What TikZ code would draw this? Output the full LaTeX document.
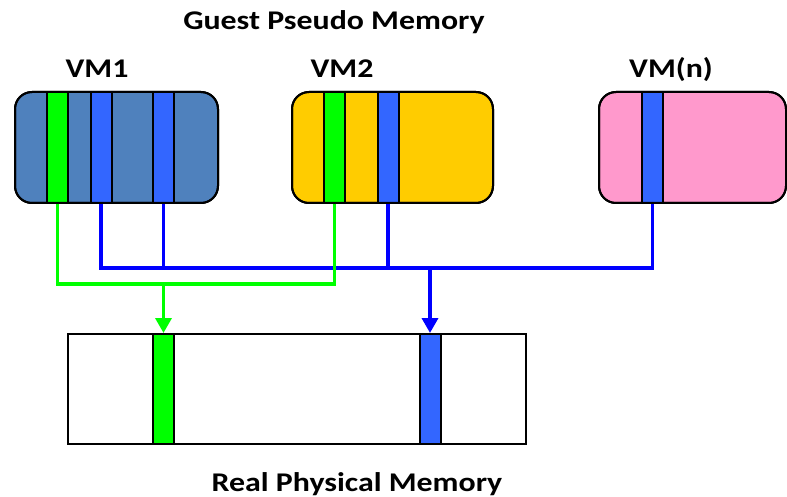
\documentclass[tikz,border=0pt]{standalone}
\usepackage{fontspec}
\setmainfont{Carlito}
\usetikzlibrary{arrows.meta}
\definecolor{vmblue}{HTML}{4F81BD}
\definecolor{vmyellow}{HTML}{FFCC00}
\definecolor{vmpink}{HTML}{FF99CC}
\definecolor{stripeblue}{HTML}{3366FF}
\definecolor{stripegreen}{HTML}{00FF00}
\definecolor{linkblue}{HTML}{0000FF}
\newcommand{\widetext}[1]{\scalebox{1.18}[1]{#1}}
\tikzset{
  vmbox/.style={draw=black, line width=2pt, rounded corners=17pt, inner sep=0pt, minimum height=111pt},
  stripe/.style={draw=black, line width=2pt, inner sep=0pt, minimum width=21pt},
  label/.style={font=\bfseries\fontsize{27}{30}\selectfont, inner sep=0pt, anchor=base},
  glink/.style={draw=stripegreen, line width=3.5pt},
  blink/.style={draw=linkblue, line width=3.5pt},
  tip/.style={-{Triangle[width=16pt,length=15pt]}},
}
\begin{document}
\begin{tikzpicture}[x=1pt,y=-1pt]
\useasboundingbox (0,0) rectangle (787,497);
% titles
\node[label] (title) at (334,30) {\widetext{Guest Pseudo Memory}};
\node[label] (l1) at (97,78) {\widetext{VM1}};
\node[label] (l2) at (342,78) {\widetext{VM2}};
\node[label] (ln) at (671,78) {\widetext{VM(n)}};
\node[label] (title2) at (357,491) {\widetext{Real Physical Memory}};
% VM boxes
\node[vmbox, fill=vmblue, minimum width=203pt] (vm1) at (116.5,147.5) {};
\node[vmbox, fill=vmyellow, minimum width=201pt] (vm2) at (392.5,147.5) {};
\node[vmbox, fill=vmpink, minimum width=187pt] (vmn) at (692.5,147.5) {};
% stripes
\node[stripe, fill=stripegreen, minimum height=111pt] (g1) at (57.5,147.5) {};
\node[stripe, fill=stripeblue, minimum height=111pt] (b1) at (101,147.5) {};
\node[stripe, fill=stripeblue, minimum height=111pt] (b2) at (163.5,147.5) {};
\node[stripe, fill=stripegreen, minimum height=111pt] (g2) at (334.5,147.5) {};
\node[stripe, fill=stripeblue, minimum height=111pt] (b3) at (388,147.5) {};
\node[stripe, fill=stripeblue, minimum height=111pt] (bn) at (652.5,147.5) {};
% redraw box outlines over stripes
\node[vmbox, minimum width=203pt] at (vm1) {};
\node[vmbox, minimum width=201pt] at (vm2) {};
\node[vmbox, minimum width=187pt] at (vmn) {};
% physical memory
\node[draw=black, line width=2pt, fill=white, inner sep=0pt, minimum width=458pt, minimum height=110pt] (phys) at (297,389) {};
\node[stripe, fill=stripegreen, minimum height=110pt] (pg) at (163.5,389) {};
\node[stripe, fill=stripeblue, minimum height=110pt] (pb) at (430,389) {};
% bus coordinates
\coordinate (bl) at (101,268);
\coordinate (br) at (652.5,268);
\coordinate (bm) at (430,268);
\coordinate (gl) at (57.5,284);
\coordinate (gr) at (334.5,284);
\coordinate (gm) at (163.5,284);
% blue links
\draw[blink] (b1.south) -- (bl) -- (br) -- (bn.south);
\draw[blink] (b2.south) -- (b2.south |- bl);
\draw[blink] (b3.south) -- (b3.south |- bl);
\draw[blink, tip] (bm) -- (pb.north);
% green links
\draw[glink] (g1.south) -- (gl) -- (gr) -- (g2.south);
\draw[glink, tip] (gm) -- (pg.north);
\end{tikzpicture}
\end{document}
